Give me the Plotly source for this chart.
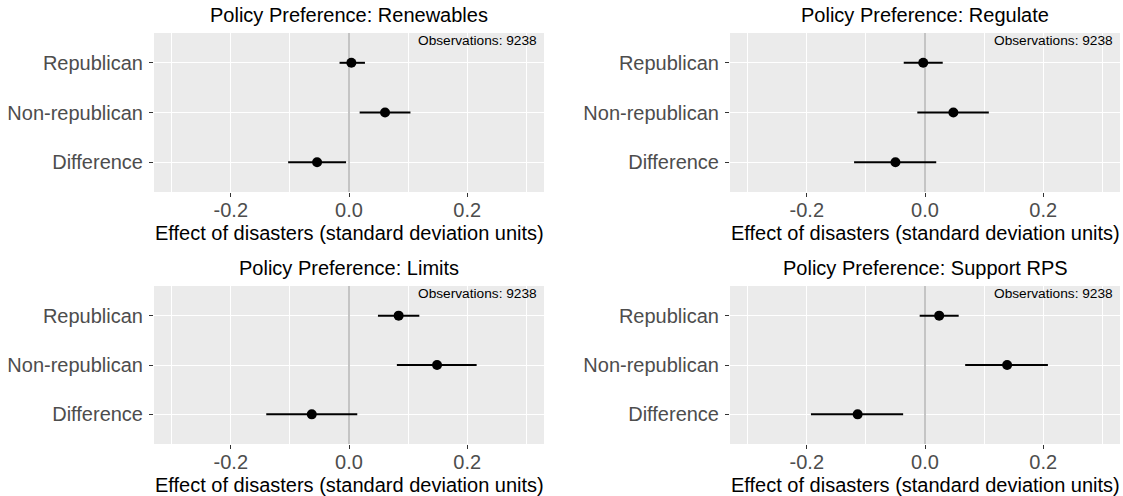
import plotly.graph_objects as go

panels = ["Renewables", "Regulate", "Limits", "Support RPS"]
groups = ["Republican", "Non-republican", "Difference"]

est_renewables = [0.004, 0.061, -0.054]
lo_renewables = [-0.016, 0.018, -0.103]
hi_renewables = [0.027, 0.104, -0.005]

est_regulate = [-0.003, 0.048, -0.050]
lo_regulate = [-0.036, -0.013, -0.120]
hi_regulate = [0.030, 0.108, 0.019]

est_limits = [0.084, 0.149, -0.063]
lo_limits = [0.049, 0.081, -0.140]
hi_limits = [0.119, 0.216, 0.014]

est_rps = [0.024, 0.139, -0.114]
lo_rps = [-0.009, 0.068, -0.193]
hi_rps = [0.057, 0.208, -0.037]

observations = [9238, 9238, 9238, 9238]
x_ticks = [-0.2, 0.0, 0.2]
x_tick_labels = ["-0.2", "0.0", "0.2"]
x_title = "Effect of disasters (standard deviation units)"

data = [
    (est_renewables, lo_renewables, hi_renewables),
    (est_regulate, lo_regulate, hi_regulate),
    (est_limits, lo_limits, hi_limits),
    (est_rps, lo_rps, hi_rps),
]

W, H = 1123, 496
FONT = "Liberation Sans, Arial, Helvetica, sans-serif"

# panel pixel boxes: (left, right, top, bottom)
boxes = [
    (154, 544, 33, 192),
    (730, 1120, 33, 192),
    (154, 544, 286, 444),
    (730, 1120, 286, 444),
]

fig = go.Figure()
layout = dict(
    width=W, height=H,
    margin=dict(l=0, r=0, t=0, b=0),
    paper_bgcolor="white",
    plot_bgcolor="#EBEBEB",
    showlegend=False,
    font=dict(family=FONT, size=20, color="#4D4D4D"),
)
annotations = []

for i, (name, (est, lo, hi)) in enumerate(zip(panels, data)):
    ax = "" if i == 0 else str(i + 1)
    left, right, top, bottom = boxes[i]
    xd = [left / W, right / W]
    yd = [1 - bottom / H, 1 - top / H]
    fig.add_trace(go.Scatter(
        x=est, y=groups, mode="markers",
        marker=dict(color="black", size=10),
        error_x=dict(type="data", symmetric=False,
                     array=[h - e for h, e in zip(hi, est)],
                     arrayminus=[e - l for e, l in zip(est, lo)],
                     color="black", thickness=2, width=0),
        xaxis="x" + ax, yaxis="y" + ax, hoverinfo="skip",
    ))
    layout["xaxis" + ax] = dict(
        domain=xd, anchor="y" + ax, range=[-0.33, 0.33],
        tickvals=x_ticks, ticktext=x_tick_labels,
        showgrid=True, gridcolor="white", gridwidth=1.4,
        minor=dict(tickvals=[-0.3, -0.1, 0.1, 0.3], showgrid=True,
                   gridcolor="white", gridwidth=0.7, ticks=""),
        zeroline=True, zerolinecolor="#C4C4C4", zerolinewidth=1.6,
        ticks="outside", ticklen=4, tickwidth=1.1, tickcolor="#333333",
        showline=False, fixedrange=True,
        tickfont=dict(family=FONT, size=20, color="#4D4D4D"),
        ticklabelstandoff=-4,
    )
    layout["yaxis" + ax] = dict(
        domain=yd, anchor="x" + ax, type="category",
        categoryorder="array", categoryarray=groups[::-1],
        range=[-0.6, 2.6],
        showgrid=True, gridcolor="white", gridwidth=1.4,
        zeroline=False,
        ticks="outside", ticklen=4, tickwidth=1.1, tickcolor="#333333",
        showline=False, fixedrange=True,
        tickfont=dict(family=FONT, size=20, color="#4D4D4D"),
        ticklabelstandoff=2,
    )
    cx = (left + right) / 2 / W
    annotations.append(dict(
        text="Policy Preference: " + name, xref="paper", yref="paper",
        x=cx, y=1 - (top - 18) / H, xanchor="center", yanchor="middle",
        showarrow=False, font=dict(family=FONT, size=20, color="black"),
    ))
    annotations.append(dict(
        text=x_title, xref="paper", yref="paper",
        x=cx, y=1 - (bottom + 41) / H, xanchor="center", yanchor="middle",
        showarrow=False, font=dict(family=FONT, size=20, color="black"),
    ))
    annotations.append(dict(
        text="Observations: " + str(observations[i]),
        xref="x" + ax + " domain", yref="y" + ax + " domain",
        x=0.985, y=1, xanchor="right", yanchor="top",
        showarrow=False, font=dict(family=FONT, size=13.7, color="black"),
        borderpad=0, yshift=1,
    ))

layout["annotations"] = annotations
fig.update_layout(**layout)
fig.write_html(
    "out.html",
    config={"displayModeBar": False},
    post_script=(
        "document.body.style.margin='0';document.body.style.padding='0';"
        "document.body.style.overflow='hidden';"
    ),
)
